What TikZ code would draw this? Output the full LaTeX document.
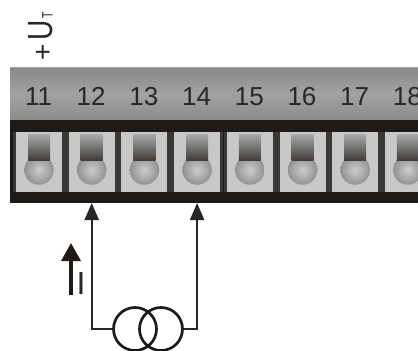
\documentclass[tikz,border=0pt]{standalone}
\usepackage{fontspec}
\setmainfont{Liberation Sans}
\usetikzlibrary{arrows.meta}
\definecolor{ink}{HTML}{2A2624}
\definecolor{band}{HTML}{1E1A18}
\definecolor{gap}{HTML}{3A3836}
\definecolor{cellc}{HTML}{C8C8C8}
\definecolor{housetop}{HTML}{888888}
\definecolor{housemid}{HTML}{A2A2A2}
\definecolor{housebot}{HTML}{8C8C8C}
\definecolor{slottop}{HTML}{ABABAB}
\definecolor{slotbot}{HTML}{403C3A}
\definecolor{headin}{HTML}{CCCCCC}
\definecolor{headout}{HTML}{929292}
\tikzset{
  x=1pt,y=-1pt,
  wire/.style={draw=ink,line width=2.3pt,-{Triangle[length=17pt,width=14pt]}},
  coil/.style={circle,draw=band,line width=2.7pt,minimum size=43pt,inner sep=0pt},
  numlabel/.style={text=ink,font=\fontsize{26}{26}\selectfont,anchor=base},
  cellbox/.style={fill=cellc,minimum width=46pt,minimum height=60pt,inner sep=0pt},
  slot/.style={top color=slottop,bottom color=slotbot},
  head/.style={circle,minimum size=29.5pt,inner sep=0pt,inner color=headin,outer color=headout}
}
\begin{document}
\begin{tikzpicture}
\clip (0,0) rectangle (418,351);
\useasboundingbox (0,0) rectangle (418,351);
\fill[white] (0,0) rectangle (418,351);
% housing
\shade[top color=housetop,bottom color=housebot,middle color=housemid] (10,67) rectangle (430,120);
\draw[gray!70,line width=1pt] (10,67.5) -- (430,67.5);
\fill[band] (10,120) rectangle (430,203);
\foreach \n/\cx in {11/39,12/91.7,13/144.4,14/197.1,15/249.8,16/302.5,17/355.2,18/407.9}{
  \fill[gap] (\cx-26.3,132) rectangle (\cx+26.3,192);
  \node[numlabel] (lab\n) at (\cx-0.5,105) {\n};
  \node[cellbox] (t\n) at (\cx,162) {};
  \node[head] (h\n) at (\cx,170) {};
  \shade[slot] (\cx-11,134) rectangle (\cx+11,160);
  \coordinate (p\n) at (\cx,203);
}
% supply label
\node[rotate=90,anchor=base west,inner sep=0pt,text=ink] (ut) at (52.5,61)
  {\fontsize{28}{28}\selectfont+\hspace{3.5pt}\scalebox{0.8}[1]{\fontsize{35}{35}\selectfont U}\hspace{2pt}\scalebox{0.7}[1]{\fontsize{15}{15}\selectfont T}};
% current source
\node[coil] (c1) at (135,329) {};
\node[coil] (c2) at (161,329) {};
\draw[wire] (c1.west) -| (p12);
\draw[wire] (c2.east) -| (p14);
% current arrow
\coordinate (ia) at (71,295);
\coordinate (ib) at (71,243);
\draw[draw=band,line width=3.5pt,-{Triangle[length=18pt,width=19pt]}] (ia) -- (ib);
\node[anchor=base,inner sep=0pt,text=ink,font=\fontsize{32}{32}\selectfont] (il) at (81,294) {I};
\end{tikzpicture}
\end{document}
